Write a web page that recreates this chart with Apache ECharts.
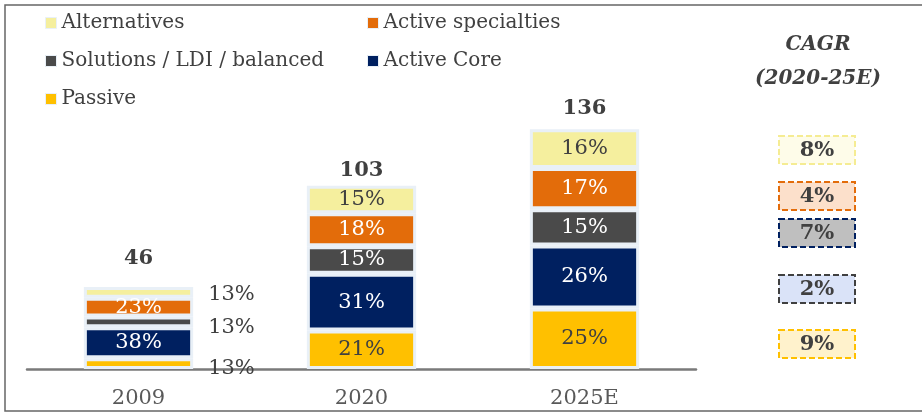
<!DOCTYPE html>
<html>
<head>
<meta charset="utf-8">
<script src="https://cdn.jsdelivr.net/npm/echarts@6/dist/echarts.min.js"></script>
<style>
  html, body { margin: 0; padding: 0; background: #fff; }
</style>
</head>
<body>
<!--echarts容器-->
<div id="echartContainer" style="width:922px; height:413px"></div>
<script>
// 数据
var years = ["2009", "2020", "2025E"];
var totals = [46, 103, 136];
var passive = [13, 21, 25];
var activeCore = [38, 31, 26];
var solutions = [13, 15, 15];
var activeSpecialties = [23, 18, 17];
var alternatives = [13, 15, 16];
var cagrLabels = ["8%", "4%", "7%", "2%", "9%"];

var font = "DejaVu Serif";
var grey = "#404040";

// 份额 -> 绝对值
function toValues(shares) {
  return shares.map(function (s, i) {
    return totals[i] * s / 100;
  });
}

function makeSeries(name, shares, color, labelColor, outside) {
  var vals = toValues(shares);
  return {
    name: name,
    type: "bar",
    stack: "aum",
    barWidth: "49%",
    itemStyle: { color: color, borderColor: "#e9f0f7", borderWidth: 3 },
    label: {
      show: true,
      position: "inside",
      color: labelColor,
      fontFamily: font,
      fontSize: 21,
      formatter: function (p) { return shares[p.dataIndex] + "%"; }
    },
    data: vals.map(function (v, i) {
      var item = { value: v };
      // 2009年小块标签放在右边
      if (outside && outside[i] != null) {
        item.label = { position: "right", distance: 15, color: grey, offset: [0, outside[i]] };
      }
      return item;
    })
  };
}

var series = [
  makeSeries("Passive", passive, "#ffc000", grey, [5]),
  makeSeries("Active Core", activeCore, "#002060", "#ffffff"),
  makeSeries("Solutions / LDI / balanced", solutions, "#4a4a4a", "#ffffff", [6]),
  makeSeries("Active specialties", activeSpecialties, "#e36c0a", "#ffffff"),
  makeSeries("Alternatives", alternatives, "#f5ef9e", grey, [2])
];

// 总量标签 (scatter默认opacity 0.8, 这里改成1)
var totalOffsets = [-18, -4, -7];
series.push({
  name: "total",
  type: "scatter",
  symbolSize: 1,
  itemStyle: { color: "transparent", opacity: 1 },
  silent: true,
  label: {
    show: true,
    position: "top",
    distance: 0,
    color: "#404040",
    fontFamily: font,
    fontWeight: "bold",
    fontSize: 21
  },
  data: totals.map(function (t, i) {
    return { value: t, label: { offset: [0, totalOffsets[i]] } };
  })
});

// CAGR 框
var boxTops = [136, 182, 219, 275, 330];
var boxFill = ["#fefce9", "#fce0cb", "#bfbfbf", "#dae3f8", "#fff2cc"];
var boxStroke = ["#f5ec93", "#e36c0a", "#002060", "#404040", "#ffc000"];
var graphics = [
  {
    // 外框 (右边不画)
    type: "polyline",
    shape: { points: [[922, 5], [5, 5], [5, 411], [922, 411]] },
    style: { fill: "none", stroke: "#666", lineWidth: 1.5 },
    z: 100
  },
  {
    type: "text",
    x: 818, y: 62,
    style: {
      text: "CAGR\n(2020-25E)",
      fill: grey,
      font: "italic bold 20px '" + font + "'",
      lineHeight: 34,
      align: "center",
      verticalAlign: "middle"
    }
  }
];
cagrLabels.forEach(function (t, i) {
  graphics.push({
    type: "rect",
    shape: { x: 779, y: boxTops[i], width: 76, height: 28 },
    style: { fill: boxFill[i], stroke: boxStroke[i], lineWidth: 2, lineDash: [6, 3] }
  });
  graphics.push({
    type: "text",
    x: 817, y: boxTops[i] + 15,
    style: {
      text: t,
      fill: grey,
      font: "bold 21px '" + font + "'",
      align: "center",
      verticalAlign: "middle"
    }
  });
});

var legendText = { color: "#404040", fontFamily: font, fontSize: 20, lineHeight: 20 };

var myChart = echarts.init(document.getElementById("echartContainer"));
myChart.setOption({
  animation: false,
  textStyle: { fontFamily: font },
  grid: { left: 27, right: 226, top: 102, bottom: 44 },
  legend: [
    {
      orient: "vertical",
      left: 40,
      top: 8,
      itemGap: 18,
      itemWidth: 11,
      itemHeight: 11,
      icon: "rect",
      itemStyle: { borderWidth: 1 },
      textStyle: legendText,
      data: ["Alternatives", "Solutions / LDI / balanced", "Passive"]
    },
    {
      orient: "vertical",
      left: 362,
      top: 8,
      itemGap: 18,
      itemWidth: 11,
      itemHeight: 11,
      icon: "rect",
      itemStyle: { borderWidth: 1 },
      textStyle: legendText,
      data: ["Active specialties", "Active Core"]
    }
  ],
  xAxis: {
    type: "category",
    data: years,
    axisTick: { show: false },
    axisLine: { lineStyle: { color: "#7a7a7a", width: 2.5 } },
    axisLabel: { color: "#595959", fontFamily: font, fontSize: 21, margin: 19 }
  },
  yAxis: {
    type: "value",
    min: 0,
    max: 150,
    show: false,
    splitLine: { show: false }
  },
  graphic: graphics,
  series: series
});
</script>
</body>
</html>
